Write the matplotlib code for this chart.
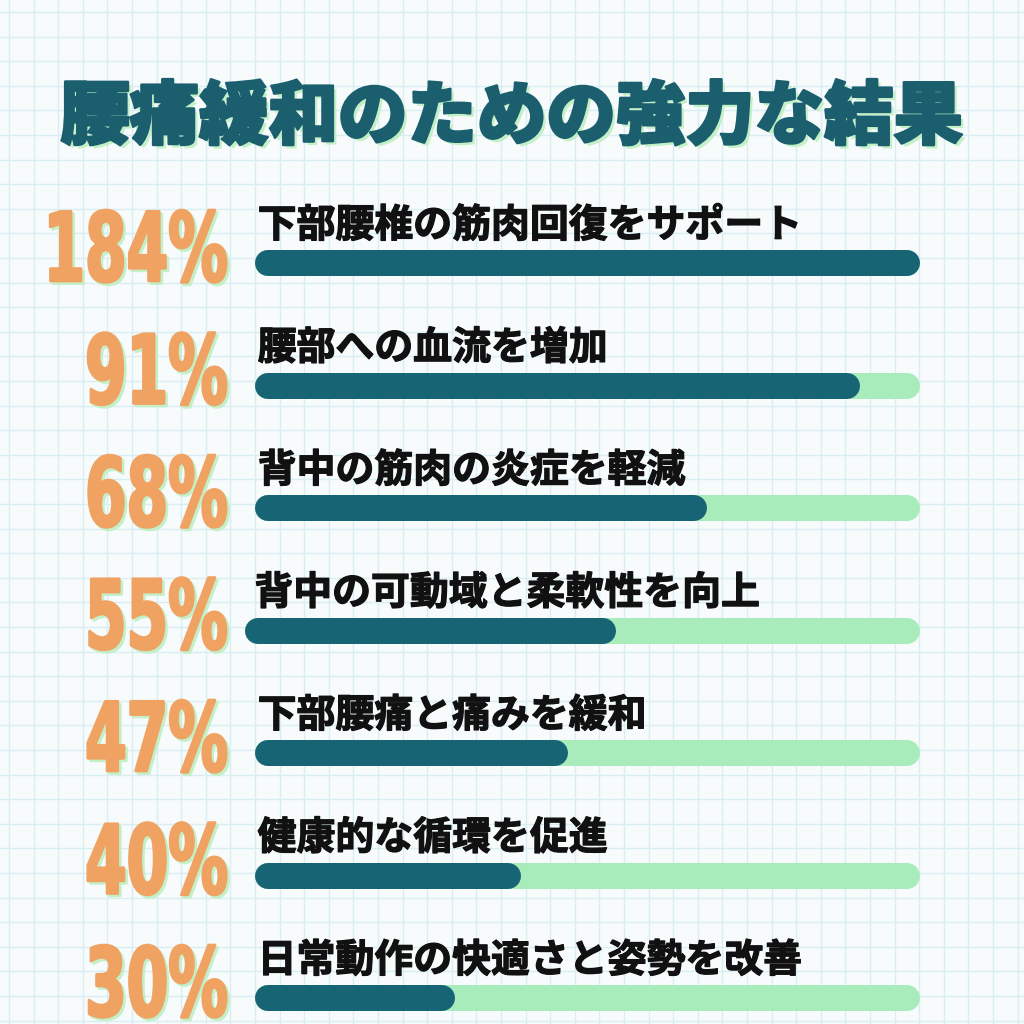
import matplotlib
matplotlib.use("Agg")
import matplotlib.pyplot as plt
import matplotlib.patheffects as pe
import matplotlib.colors as mcolors
from matplotlib.transforms import Affine2D

plt.rcParams['font.family'] = ['Noto Sans CJK JP', 'DejaVu Sans']

title = "腰痛緩和のための強力な結果"
labels = [
    "下部腰椎の筋肉回復をサポート",
    "腰部への血流を増加",
    "背中の筋肉の炎症を軽減",
    "背中の可動域と柔軟性を向上",
    "下部腰痛と痛みを緩和",
    "健康的な循環を促進",
    "日常動作の快適さと姿勢を改善",
]
values = [184, 91, 68, 55, 47, 40, 30]

C_BG = "#f7fbfc"
C_GRID = "#d9eef2"
C_TEAL = "#176474"
C_TITLE = "#1b5f6f"
C_TRACK = "#a9ecbc"
C_ORANGE = "#f0a262"
C_SHADOW = "#c4f0c8"


class Tall(pe.AbstractPathEffect):
    """Stretch glyphs vertically about the baseline (condensed look), thicken, add a flat shadow."""
    def __init__(self, get_anchor, sy, color, shadow, offset=(2.5, -2.5), stroke=2.0):
        super().__init__()
        self.get_anchor = get_anchor
        self.sy = sy
        self.color = mcolors.to_rgba(color)
        self.shadow = mcolors.to_rgba(shadow)
        self.off = offset
        self.stroke = stroke

    def draw_path(self, renderer, gc, tpath, affine, rgbFace=None):
        xa, ya = self.get_anchor()
        aff = affine + Affine2D().translate(-xa, -ya).scale(1, self.sy).translate(xa, ya)
        gc0 = renderer.new_gc()
        gc0.copy_properties(gc)
        gc0.set_linewidth(self.stroke)
        gc0.set_foreground(self.shadow)
        renderer.draw_path(gc0, tpath, aff + Affine2D().translate(*self.off), self.shadow)
        gc0.set_foreground(self.color)
        renderer.draw_path(gc0, tpath, aff, self.color)
        gc0.restore()


W = H = 1024
fig = plt.figure(figsize=(10.24, 10.24), dpi=100)
fig.patch.set_facecolor(C_BG)

# background grid paper
bg = fig.add_axes([0, 0, 1, 1])
bg.set_xlim(0, W); bg.set_ylim(H, 0)
bg.set_axis_off()
step = 24.6
k = 0
while k * step < W:
    bg.axvline(9 + k * step, color=C_GRID, lw=1.0, zorder=0)
    bg.axhline(12 + k * step, color=C_GRID, lw=1.0, zorder=0)
    k += 1

bg.text(W / 2, 118, title, fontsize=50, fontweight="black", color=C_TITLE,
        ha="center", va="center",
        path_effects=[pe.withSimplePatchShadow(offset=(2.5, -2.5), shadow_rgbFace=C_SHADOW, alpha=1),
                      pe.Stroke(linewidth=1.8, foreground=C_TITLE), pe.Normal()])

# bar axes: x in percent, track spans px 255..920
X0, X1 = 255, 920
ROW0, ROW_H = 263, 122.5
ax = fig.add_axes([X0 / W, 0, (X1 - X0) / W, 1])
ax.set_xlim(0, 100)
ax.set_ylim((H - ROW0) / ROW_H, -ROW0 / ROW_H)
ax.set_axis_off()
ax.patch.set_alpha(0)

BAR_PX = 26
lw = BAR_PX * 72 / 100
unit = 100 / (X1 - X0)          # data units per pixel
r = (BAR_PX / 2) * unit
px = 1 / ROW_H
x_num = (228 - X0) * unit
shift = [0, 0, 0, -10, 0, 0, 0]  # the 4th row sits a little further left

for i, (lab, v) in enumerate(zip(labels, values)):
    s = shift[i] * unit
    span = 100 - s                # track length for this row
    ax.plot([s + r, 100 - r], [i, i], color=C_TRACK, lw=lw, solid_capstyle="round",
            zorder=1, clip_on=False)
    fill = s + span * min(v, 100) / 100
    ax.plot([s + r, fill - r], [i, i], color=C_TEAL, lw=lw, solid_capstyle="round",
            zorder=2, clip_on=False)
    ax.text(s / 3 + 0.4, i - 18 * px, lab, fontsize=28, fontweight="bold", color="#111111",
            ha="left", va="bottom",
            path_effects=[pe.Stroke(linewidth=0.9, foreground="#111111"), pe.Normal()])
    yb = i + 18 * px
    anchor = (lambda y=yb: ax.transData.transform((x_num, y)))
    ax.text(x_num, yb, f"{v}%",
            family="DejaVu Sans", fontsize=43, fontweight="bold",
            color=C_ORANGE, ha="right", va="baseline",
            path_effects=[Tall(anchor, 1.6, C_ORANGE, C_SHADOW)])

fig.savefig("out.png", dpi=100, facecolor=C_BG)
